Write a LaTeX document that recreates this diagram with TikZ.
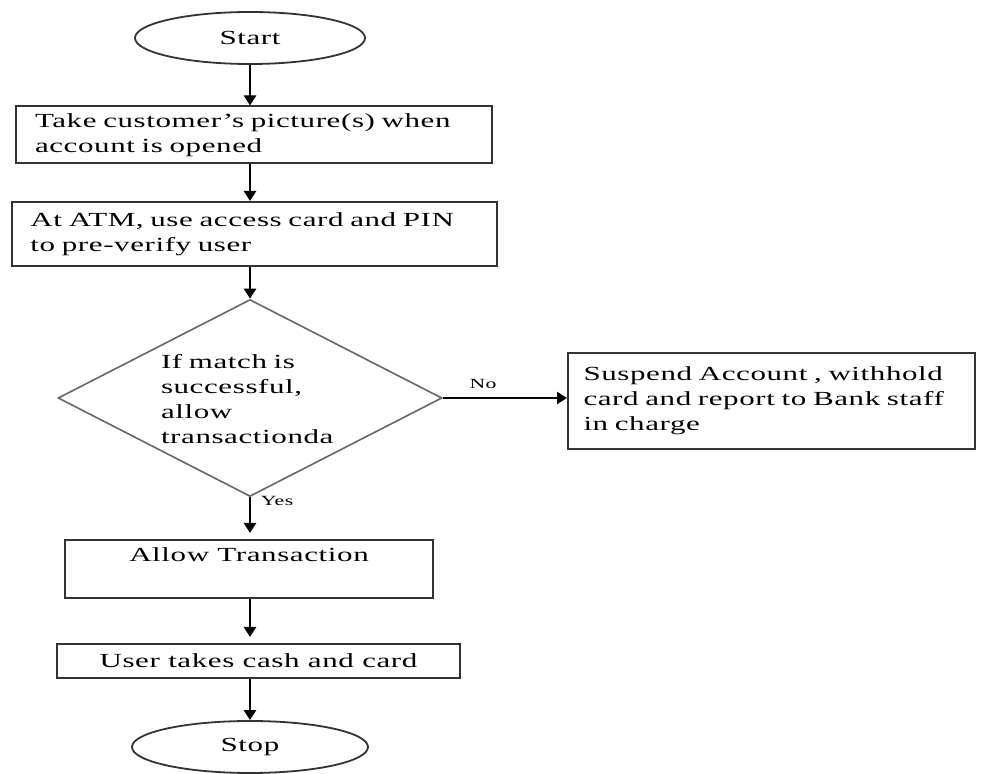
\documentclass[tikz,border=0pt]{standalone}
\usepackage{fontspec}
\setmainfont{Liberation Serif}[FakeStretch=1.55,LetterSpace=3]
\usetikzlibrary{shapes.geometric,arrows.meta}

\tikzset{
  terminal/.style={draw=black!80, line width=0.9pt, ellipse, minimum width=115pt, minimum height=26pt, inner sep=0pt},
  process/.style={draw=black!80, line width=1pt, rectangle, align=left, inner sep=0pt},
  decision/.style={draw=black!60, line width=0.8pt, diamond, minimum width=192pt, minimum height=98.5pt, inner sep=0pt},
  flow/.style={line width=1.2pt, -{Triangle[width=6pt,length=5pt]}},
  branch/.style={font=\fontsize{7}{8}\selectfont}
}

\begin{document}
\begin{tikzpicture}[x=0.5pt,y=-0.5pt,font=\fontsize{10}{12.5}\selectfont]
\useasboundingbox (0,0) rectangle (982,774);

\node[terminal] (start) at (250,38) {Start};
\node[process, minimum width=238pt, minimum height=28.5pt, text width=219pt] (take) at (254,135) {Take customer's picture(s) when\\account is opened};
\node[process, minimum width=242.5pt, minimum height=32pt, text width=224pt] (atm) at (254.5,234) {At ATM, use access card and PIN\\to pre-verify user};

\node[decision] (dec) at (250,398) {};
\node[align=left, text width=89pt, inner sep=0pt] (dectext) at (250,399) {If match is\\successful,\\allow\\transactionda};

\node[process, minimum width=203.5pt, minimum height=48pt, text width=188pt] (suspend) at (771.5,401) {Suspend Account , withhold\\card and report to Bank staff\\in charge};

\node[process, minimum width=184pt, minimum height=29pt, text depth=14pt] (allow) at (249,569) {Allow Transaction};
\node[process, minimum width=201.5pt, minimum height=17pt] (cash) at (258.5,661) {User takes cash and card};
\node[terminal, minimum width=118pt] (stop) at (250,747) {Stop};

\node[branch] (no) at (483,384) {No};
\node[branch] (yes) at (277,501) {Yes};

\draw[flow] (start) -- (start |- take.north);
\draw[flow] (start |- take.south) -- (start |- atm.north);
\draw[flow] (start |- atm.south) -- (dec);
\draw[flow] (dec) -- (suspend.west |- dec.east);
\draw[flow, shorten >=3pt] (dec) -- (dec |- allow.north);
\draw[flow, shorten >=3pt] (dec |- allow.south) -- (dec |- cash.north);
\draw[flow] (dec |- cash.south) -- (stop);
\end{tikzpicture}
\end{document}
